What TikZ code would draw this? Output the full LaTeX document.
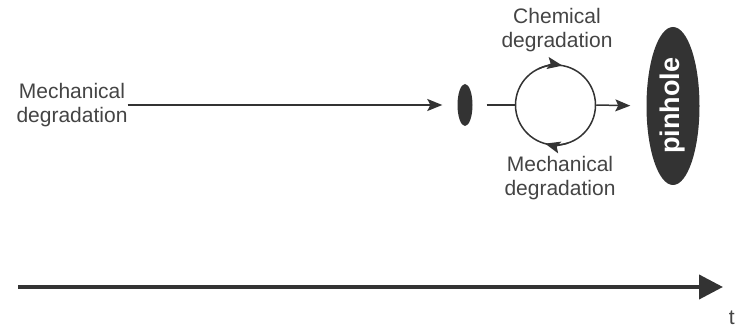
\documentclass[tikz,border=0pt]{standalone}
\usepackage{fontspec}
\setmainfont{Liberation Sans}
\usetikzlibrary{shapes.geometric,arrows.meta}
\definecolor{ink}{HTML}{333333}
\definecolor{txt}{HTML}{444444}
\begin{document}
\begin{tikzpicture}[x=1pt,y=1pt,
  lbl/.style={font=\fontsize{21}{24}\selectfont, text=txt, align=center, inner sep=0pt},
  tip/.style={-{Stealth[length=15pt,width=12pt,inset=3pt]}},
  conn/.style={draw=ink, line width=1.5pt, tip},
  blob/.style={ellipse, fill=ink, draw=none, inner sep=0pt}]
\useasboundingbox (0,0) rectangle (737,329);
\node[lbl] (lt) at (72,224) {Mechanical\\degradation};
\node[blob, minimum width=15, minimum height=42] (small) at (465,224) {};
\node[circle, draw=ink, line width=1.5pt, minimum size=80, inner sep=0pt] (cyc) at (555.5,224) {};
\node[blob, rotate=90, minimum width=158, minimum height=53, text=white,
  font=\fontsize{27}{30}\selectfont\bfseries] (pin) at (673,223) {pinhole};
\node[lbl] (chem) at (557,298.5) {Chemical\\degradation};
\node[lbl] (mech) at (560,151) {Mechanical\\degradation};
\coordinate (a0) at (18,42);
\coordinate (a1) at (723,42);
\node[lbl, anchor=south east] (t) at (735,4) {t};
\draw[conn, shorten >=15pt] (lt.east |- small) -- (small);
\draw[draw=ink, line width=1.5pt, shorten <=14pt] (small.east) -- (cyc.west);
\draw[conn, shorten >=16pt] (cyc.east) -- (pin.north);
\draw[conn] (cyc.center) ++(115:40) arc[start angle=115, end angle=80, radius=40];
\draw[conn] (cyc.center) ++(-72:40) arc[start angle=-72, end angle=-105, radius=40];
\draw[draw=ink, line width=4pt, -{Triangle[length=24pt,width=24pt]}] (a0) -- (a1);
\end{tikzpicture}
\end{document}
